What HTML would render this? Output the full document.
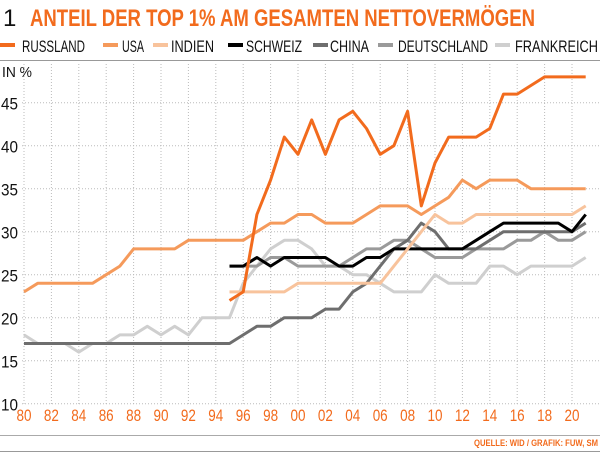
<!DOCTYPE html>
<html><head><meta charset="utf-8"><style>
html,body{margin:0;padding:0;background:#fff;width:600px;height:453px;overflow:hidden}
text{font-family:"Liberation Sans",sans-serif}
</style></head><body>
<svg id="s" width="600" height="453" xmlns="http://www.w3.org/2000/svg">
<text x="3" y="26" font-size="24" fill="#111">1</text>
<text x="30" y="26" font-size="24" font-weight="bold" fill="#f26b1d" textLength="505" lengthAdjust="spacingAndGlyphs">ANTEIL DER TOP 1% AM GESAMTEN NETTOVERMÖGEN</text>
<g id="leg"></g>
<line x1="0" y1="60.5" x2="600" y2="60.5" stroke="#999" stroke-width="1"/>
<text x="2" y="77" font-size="15" fill="#111" textLength="30" lengthAdjust="spacingAndGlyphs">IN %</text>
<g id="grid"></g>
<g id="lines"></g>
<line x1="0" y1="435.5" x2="600" y2="435.5" stroke="#aaa" stroke-width="1"/>
<text x="598" y="446" font-size="9" font-weight="bold" fill="#f26b1d" text-anchor="end" textLength="124" lengthAdjust="spacingAndGlyphs">QUELLE: WID / GRAFIK: FUW, SM</text>
<line x1="0" y1="451.5" x2="600" y2="451.5" stroke="#999" stroke-width="1"/>
</svg>
<script>
var NS="http://www.w3.org/2000/svg";
function el(p,t,a,txt){var e=document.createElementNS(NS,t);for(var k in a)e.setAttribute(k,a[k]);if(txt!=null)e.textContent=txt;p.appendChild(e);return e;}
function X(yr){return 24+(yr-1980)*13.7;}
function Y(v){return 403.7-(v-10)*8.6;}
var g=document.getElementById('grid');
for(var v=10;v<=45;v+=5){el(g,'line',{x1:22,x2:600,y1:Y(v),y2:Y(v),stroke:'#bbb','stroke-width':1,'stroke-dasharray':'1,2'});
 el(g,'text',{x:1,y:Y(v)+7,'font-size':17,fill:'#111',textLength:17,lengthAdjust:'spacingAndGlyphs'},String(v));}
for(var yr=1980;yr<=2020;yr+=2){el(g,'line',{x1:X(yr),x2:X(yr),y1:64,y2:404,stroke:'#bbb','stroke-width':1,'stroke-dasharray':'1,2'});
 el(g,'text',{x:X(yr),y:421,'font-size':17,fill:'#f26b1d','text-anchor':'middle',textLength:15,lengthAdjust:'spacingAndGlyphs'},String(yr%100).padStart(2,'0'));}
var S=[
["FRANKREICH","#cfcfcf",1980,[18,17,17,17,16,17,17,18,18,19,18,19,18,20,20,20,24,26,28,29,29,28,26,26,25,25,24,23,23,23,25,24,24,24,26,26,25,26,26,26,26,27]],
["DEUTSCHLAND","#9a9a9a",1995,[26,26,26,27,27,26,26,26,26,27,28,28,29,29,28,27,27,27,28,28,28,29,29,30,29,29,30]],
["CHINA","#6e6e6e",1980,[17,17,17,17,17,17,17,17,17,17,17,17,17,17,17,17,18,19,19,20,20,20,21,21,23,24,26,28,29,31,30,28,28,28,29,30,30,30,30,30,30,31]],
["SCHWEIZ","#000",1995,[26,26,27,26,27,27,27,27,26,26,27,27,28,28,28,28,28,28,29,30,31,31,31,31,31,30,32]],
["INDIEN","#f8c39c",1995,[23,23,23,23,23,24,24,24,24,24,24,24,26,28,30,32,31,31,32,32,32,32,32,32,32,32,33]],
["USA","#f59a5b",1980,[23,24,24,24,24,24,25,26,28,28,28,28,29,29,29,29,29,30,31,31,32,32,31,31,31,32,33,33,33,32,33,34,36,35,36,36,36,35,35,35,35,35]],
["RUSSLAND","#f26b1d",1995,[22,23,32,36,41,39,43,39,43,44,42,39,40,44,33,38,41,41,41,42,46,46,47,48,48,48,48]]];
var L=document.getElementById('lines');
S.forEach(function(s){var p=s[3].map(function(v,i){return X(s[2]+i).toFixed(1)+','+Y(v).toFixed(1);}).join(' ');
 el(L,'polyline',{points:p,fill:'none',stroke:s[1],'stroke-width':3,'stroke-linejoin':'round'});});
var leg=document.getElementById('leg');
var mk=[0,103,153,228,313,378,495],tx=[22,122,171,246,330,398,515],tw=[63,22,43,56,39,90,83];
var order=["RUSSLAND","USA","INDIEN","SCHWEIZ","CHINA","DEUTSCHLAND","FRANKREICH"];
order.forEach(function(n,i){var c=S.filter(function(s){return s[0]==n;})[0][1];
 el(leg,'rect',{x:mk[i],y:43,width:15,height:4,fill:c});
 el(leg,'text',{x:tx[i],y:52,'font-size':17,fill:'#111',textLength:tw[i],lengthAdjust:'spacingAndGlyphs'},n);});
</script>
</body></html>
